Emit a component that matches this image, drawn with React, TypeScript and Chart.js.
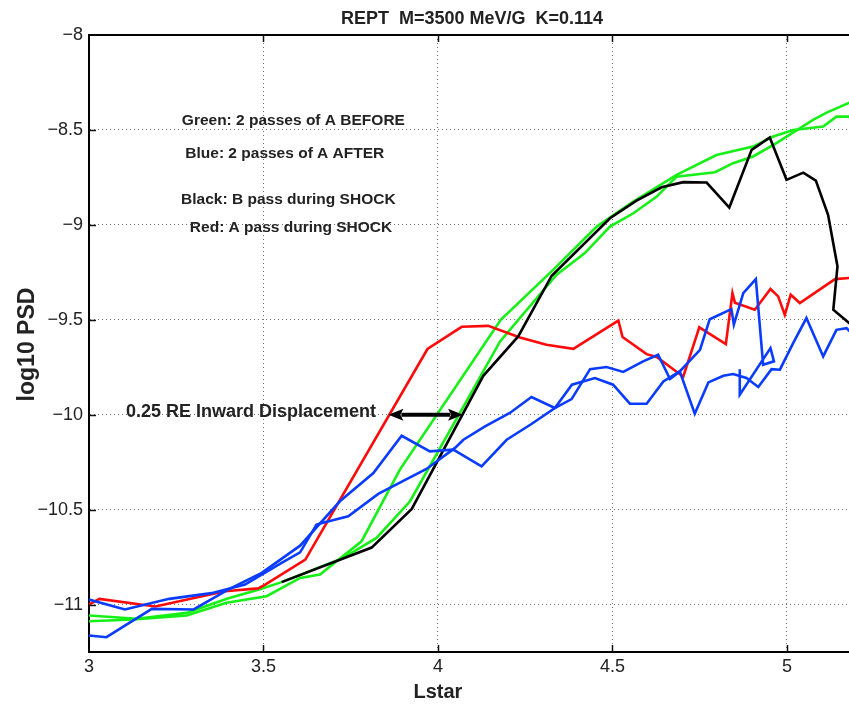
import React, { useEffect, useRef } from 'react';
import { Chart, registerables } from 'chart.js';

Chart.register(...registerables);

// ---- axes ----
const xTicks = [3, 3.5, 4, 4.5, 5];
const xTickLabels = ['3', '3.5', '4', '4.5', '5'];
const yTicks = [-11, -10.5, -10, -9.5, -9, -8.5, -8];
const yTickLabels = ['\u221211', '\u221210.5', '\u221210', '\u22129.5', '\u22129', '\u22128.5', '\u22128'];
const xMin = 3;
const xMax = 5.178;
const yMin = -11.25;
const yMax = -8;
const xAxisTitle = 'Lstar';
const yAxisTitle = 'log10 PSD';

// ---- Green: 2 passes of A BEFORE ----
const greenA_L = [3.0, 3.127, 3.28, 3.394, 3.509, 3.605, 3.662, 3.781, 3.891, 4.18, 4.33, 4.455, 4.56, 4.684, 4.798, 4.903, 4.961, 5.018, 5.104, 5.142, 5.18];
const greenA_PSD = [-11.088, -11.079, -11.058, -10.991, -10.956, -10.86, -10.842, -10.667, -10.289, -9.5, -9.237, -9.009, -8.877, -8.737, -8.632, -8.588, -8.535, -8.5, -8.482, -8.43, -8.43];
const greenB_L = [3.0, 3.137, 3.28, 3.395, 3.49, 3.552, 3.729, 3.824, 3.92, 4.063, 4.178, 4.34, 4.421, 4.493, 4.56, 4.627, 4.684, 4.794, 4.846, 4.903, 4.97, 5.075, 5.114, 5.18];
const greenB_PSD = [-11.058, -11.075, -11.044, -10.97, -10.92, -10.882, -10.754, -10.649, -10.456, -9.99, -9.614, -9.263, -9.149, -9.009, -8.939, -8.851, -8.746, -8.723, -8.675, -8.64, -8.57, -8.447, -8.409, -8.356];

// ---- Blue: 2 passes of A AFTER ----
const blueA_L = [3.0, 3.05, 3.18, 3.3, 3.4, 3.495, 3.605, 3.719, 3.815, 3.896, 3.977, 4.044, 4.125, 4.197, 4.268, 4.335, 4.384, 4.45, 4.502, 4.55, 4.598, 4.646, 4.693, 4.751, 4.779, 4.841, 4.848, 4.875, 4.911, 4.932, 4.963, 4.953, 4.865, 4.865];
const blueA_PSD = [-11.163, -11.172, -11.023, -11.026, -10.92, -10.833, -10.69, -10.456, -10.307, -10.111, -10.193, -10.184, -10.272, -10.132, -10.049, -9.965, -9.842, -9.807, -9.842, -9.942, -9.942, -9.825, -9.772, -9.658, -9.497, -9.444, -9.526, -9.36, -9.286, -9.737, -9.719, -9.649, -9.895, -9.76];
const blueB_L = [3.0, 3.103, 3.23, 3.351, 3.447, 3.552, 3.605, 3.652, 3.676, 3.743, 3.829, 3.967, 4.049, 4.073, 4.135, 4.206, 4.268, 4.335, 4.383, 4.436, 4.483, 4.531, 4.588, 4.631, 4.665, 4.693, 4.736, 4.775, 4.818, 4.846, 4.884, 4.918, 4.956, 4.98, 5.018, 5.056, 5.104, 5.142, 5.171, 5.18];
const blueB_PSD = [-10.974, -11.026, -10.97, -10.94, -10.895, -10.78, -10.725, -10.579, -10.567, -10.535, -10.417, -10.286, -10.175, -10.132, -10.062, -9.991, -9.907, -9.965, -9.918, -9.76, -9.749, -9.775, -9.719, -9.684, -9.812, -9.772, -9.995, -9.83, -9.795, -9.786, -9.807, -9.854, -9.76, -9.763, -9.623, -9.491, -9.693, -9.553, -9.544, -9.561];

// ---- Black: B pass during SHOCK ----
const black_L = [3.552, 3.81, 3.925, 4.13, 4.23, 4.326, 4.493, 4.569, 4.641, 4.703, 4.77, 4.835, 4.899, 4.951, 4.999, 5.047, 5.083, 5.118, 5.145, 5.133, 5.18];
const black_PSD = [-10.882, -10.7, -10.496, -9.795, -9.588, -9.268, -8.965, -8.872, -8.802, -8.775, -8.777, -8.909, -8.605, -8.54, -8.763, -8.725, -8.767, -8.947, -9.219, -9.447, -9.52];

// ---- Red: A pass during SHOCK ----
const red_L = [3.0, 3.03, 3.19, 3.39, 3.485, 3.505, 3.62, 3.97, 4.068, 4.144, 4.235, 4.311, 4.388, 4.517, 4.529, 4.598, 4.627, 4.703, 4.749, 4.825, 4.844, 4.851, 4.908, 4.953, 4.975, 4.994, 5.011, 5.037, 5.138, 5.18];
const red_PSD = [-11.0, -10.97, -11.01, -10.93, -10.915, -10.895, -10.763, -9.654, -9.537, -9.532, -9.593, -9.632, -9.653, -9.504, -9.591, -9.681, -9.696, -9.8, -9.54, -9.628, -9.36, -9.41, -9.447, -9.338, -9.377, -9.474, -9.368, -9.412, -9.286, -9.28];

// ---- annotations (data coordinates) ----
const titleText = 'REPT  M=3500 MeV/G  K=0.114';
const noteTexts = ['Green: 2 passes of A BEFORE', 'Blue: 2 passes of A AFTER', 'Black: B pass during SHOCK', 'Red: A pass during SHOCK'];
const noteX = [3.266, 3.276, 3.264, 3.289];
const noteY = [-8.476, -8.649, -8.889, -9.038];
const displacementText = '0.25 RE Inward Displacement';
const displacementAt = { x: 3.106, y: -10.012 };
const arrowFrom = { x: 3.858, y: -10 };
const arrowTo = { x: 4.072, y: -10 };

const FONT = '"Liberation Sans", Arial, Helvetica, sans-serif';
const TEXT = '#222222';

const pts = (xs: number[], ys: number[]) => xs.map((x, i) => ({ x, y: ys[i] }));

const overlay = {
  id: 'overlay',
  afterDraw(chart: any) {
    const { ctx, chartArea, scales } = chart;
    const xs = scales.x;
    const ys = scales.y;
    ctx.save();
    // top border
    ctx.strokeStyle = '#000';
    ctx.lineWidth = 2;
    ctx.beginPath();
    ctx.moveTo(chartArea.left, chartArea.top);
    ctx.lineTo(chartArea.right, chartArea.top);
    ctx.stroke();
    // inner tick marks
    ctx.lineWidth = 1.5;
    ctx.strokeStyle = '#111';
    const tl = 7;
    xTicks.forEach((v) => {
      if (v === xMin) return;
      const px = Math.round(xs.getPixelForValue(v)) + 0.5;
      ctx.beginPath();
      ctx.moveTo(px, chartArea.bottom);
      ctx.lineTo(px, chartArea.bottom - tl);
      ctx.moveTo(px, chartArea.top);
      ctx.lineTo(px, chartArea.top + tl);
      ctx.stroke();
    });
    yTicks.forEach((v) => {
      if (v === yMax) return;
      const py = Math.round(ys.getPixelForValue(v)) + 0.5;
      ctx.beginPath();
      ctx.moveTo(chartArea.left, py);
      ctx.lineTo(chartArea.left + tl, py);
      ctx.stroke();
    });
    // title
    ctx.fillStyle = TEXT;
    ctx.font = `bold 18px ${FONT}`;
    ctx.textAlign = 'center';
    ctx.textBaseline = 'alphabetic';
    ctx.fillText(titleText, (chartArea.left + chartArea.right) / 2 + 3, 24);
    // axis titles
    ctx.font = `bold 20px ${FONT}`;
    ctx.textBaseline = 'alphabetic';
    ctx.fillText(xAxisTitle, xs.getPixelForValue(4), 698);
    ctx.save();
    ctx.translate(34, (chartArea.top + chartArea.bottom) / 2 + 1);
    ctx.rotate(-Math.PI / 2);
    ctx.font = `bold 23px ${FONT}`;
    ctx.fillText(yAxisTitle, 0, 0);
    ctx.restore();
    // notes
    ctx.textAlign = 'left';
    ctx.font = `bold 15.5px ${FONT}`;
    noteTexts.forEach((t, i) => {
      ctx.fillText(t, xs.getPixelForValue(noteX[i]), ys.getPixelForValue(noteY[i]));
    });
    ctx.font = `bold 18px ${FONT}`;
    ctx.fillText(displacementText, xs.getPixelForValue(displacementAt.x), ys.getPixelForValue(displacementAt.y));
    // double-headed arrow
    const x1 = xs.getPixelForValue(arrowFrom.x);
    const x2 = xs.getPixelForValue(arrowTo.x);
    const ay = ys.getPixelForValue(arrowFrom.y);
    const hl = 15;
    const hw = 6;
    ctx.strokeStyle = '#000';
    ctx.fillStyle = '#000';
    ctx.lineWidth = 4;
    ctx.beginPath();
    ctx.moveTo(x1 + hl - 2, ay);
    ctx.lineTo(x2 - hl + 2, ay);
    ctx.stroke();
    ctx.beginPath();
    ctx.moveTo(x1, ay);
    ctx.lineTo(x1 + hl, ay - hw);
    ctx.lineTo(x1 + hl - 3, ay);
    ctx.lineTo(x1 + hl, ay + hw);
    ctx.closePath();
    ctx.fill();
    ctx.beginPath();
    ctx.moveTo(x2, ay);
    ctx.lineTo(x2 - hl, ay - hw);
    ctx.lineTo(x2 - hl + 3, ay);
    ctx.lineTo(x2 - hl, ay + hw);
    ctx.closePath();
    ctx.fill();
    ctx.restore();
  },
};

export default function App() {
  const ref = useRef<HTMLCanvasElement | null>(null);
  useEffect(() => {
    if (!ref.current) return;
    const line = (label: string, data: any[], color: string, order: number) => ({
      label,
      data,
      borderColor: color,
      backgroundColor: color,
      borderWidth: 2.6,
      pointRadius: 0,
      pointHoverRadius: 0,
      tension: 0,
      fill: false,
      order,
    });
    const chart = new Chart(ref.current, {
      type: 'line',
      data: {
        datasets: [
          line('Blue A', pts(blueA_L, blueA_PSD), '#0a3cff', 0),
          line('Blue B', pts(blueB_L, blueB_PSD), '#0a3cff', 1),
          line('Black', pts(black_L, black_PSD), '#000000', 2),
          line('Red', pts(red_L, red_PSD), '#ff0a0a', 3),
          line('Green A', pts(greenA_L, greenA_PSD), '#16f016', 4),
          line('Green B', pts(greenB_L, greenB_PSD), '#16f016', 5),
        ],
      },
      options: {
        animation: false,
        responsive: false,
        devicePixelRatio: 1,
        parsing: false,
        normalized: true,
        events: [],
        layout: { padding: { top: 35, left: 0, right: 0, bottom: 0 } },
        plugins: {
          legend: { display: false },
          title: { display: false },
          tooltip: { enabled: false },
        },
        scales: {
          x: {
            type: 'linear',
            min: xMin,
            max: xMax,
            afterBuildTicks: (axis: any) => {
              axis.ticks = xTicks.map((v) => ({ value: v }));
            },
            afterFit: (axis: any) => {
              axis.height = 54;
              axis.paddingLeft = 0;
              axis.paddingRight = 0;
            },
            ticks: {
              autoSkip: false,
              maxRotation: 0,
              padding: 4,
              color: TEXT,
              font: { family: FONT, size: 18 },
              callback: (_v: any, i: number) => xTickLabels[i],
            },
            grid: {
              color: 'rgba(0,0,0,0.55)',
              lineWidth: 1,
              drawTicks: false,
            },
            border: { display: true, color: '#000', width: 2, dash: [1, 3] },
            title: { display: false },
          },
          y: {
            type: 'linear',
            min: yMin,
            max: yMax,
            afterBuildTicks: (axis: any) => {
              axis.ticks = yTicks.map((v) => ({ value: v }));
            },
            afterFit: (axis: any) => {
              axis.width = 89;
              axis.paddingTop = 0;
              axis.paddingBottom = 0;
            },
            ticks: {
              autoSkip: false,
              padding: 6,
              color: TEXT,
              font: { family: FONT, size: 18 },
              callback: (_v: any, i: number) => yTickLabels[i],
            },
            grid: {
              color: 'rgba(0,0,0,0.55)',
              lineWidth: 1,
              drawTicks: false,
            },
            border: { display: true, color: '#000', width: 2, dash: [1, 3] },
            title: { display: false },
          },
        },
      },
      plugins: [overlay],
    } as any);
    return () => chart.destroy();
  }, []);
  return (
    <div style={{ position: 'fixed', left: 0, top: 0, width: 849, height: 706, background: '#fff' }}>
      <canvas ref={ref} width={849} height={706} style={{ display: 'block', width: 849, height: 706 }} />
    </div>
  );
}
